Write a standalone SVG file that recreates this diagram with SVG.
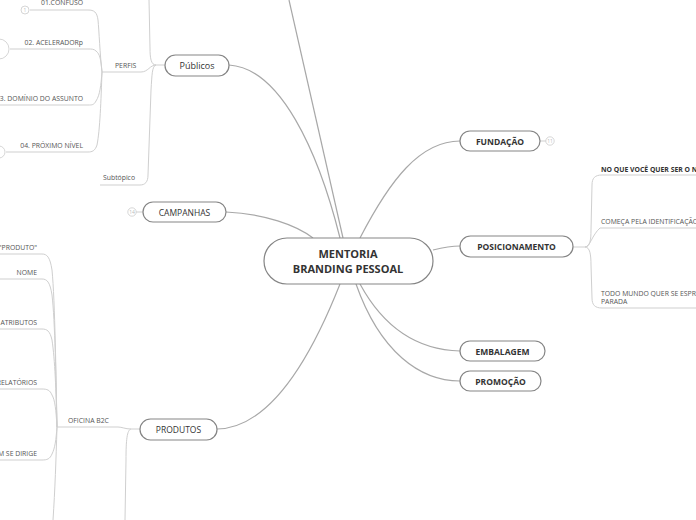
<svg xmlns="http://www.w3.org/2000/svg" width="696" height="520" viewBox="0 0 696 520">
<style>
.c{fill:none;stroke:#a8a8a8;stroke-width:1.2}
.s{fill:none;stroke:#cfcfcf;stroke-width:1}
.n{fill:#fff;stroke:#858585;stroke-width:1.2}
.t{font-family:"Open Sans","Noto Sans",sans-serif;fill:#333}
.tb{font-family:"Open Sans","Noto Sans",sans-serif;fill:#333;font-weight:bold;font-size:8.5px}
.sm{font-family:"Open Sans","Noto Sans",sans-serif;fill:#555;font-size:6.85px}
.smb{font-family:"Open Sans","Noto Sans",sans-serif;fill:#333;font-size:6.85px;font-weight:bold}
.cnt{fill:#fff;stroke:#ccc;stroke-width:0.8}
.ct{font-family:"Open Sans",sans-serif;fill:#bbb;font-size:5px}
</style>
<g id="connectors">
<path class="c" d="M343,238 L289,0"/>
<path class="c" d="M229,65 C280,68 318,150 340,238"/>
<path class="c" d="M226,212 C265,214 296,225 313,238"/>
<path class="c" d="M360,238 C390,180 420,141 460,141"/>
<path class="c" d="M433,250 C445,247 450,246 460,246"/>
<path class="c" d="M360,284 C385,330 420,350 460,351"/>
<path class="c" d="M356,284 C380,352 420,381 460,381"/>
<path class="c" d="M340,284 C310,360 270,428 217,429"/>
<path class="s" d="M540,141 L546,141"/>
<path class="s" d="M128,212 L143,212"/>
<path class="s" d="M573,247 L585,247 C590,247 591,240 591,230 L592,185 C592,178 595,175 602,175 L696,175"/>
<path class="s" d="M585,247 C590,247 592,235 600,228 L696,228"/>
<path class="s" d="M585,247 C590,247 591,255 591,265 L592,298 C592,305 595,308 602,308 L696,308"/>
<path class="s" d="M165,65 L156,65 C151,65 150,58 150,48 L149,0"/>
<path class="s" d="M156,65 C152,66 152,75 151,90 L148,175 C148,182 145,185 140,185 L100,185"/>
<path class="s" d="M156,65 C150,65 148,72 141,72 L102,72"/>
<path class="s" d="M102,72 C100,55 99,30 98,20 C97,12 94,10 88,10 L30,10"/>
<path class="s" d="M102,72 C101,60 100,54 96,51 C94,49 92,49 88,49 L10,49"/>
<path class="s" d="M102,72 C101,85 100,95 96,101 C94,105 92,105 88,105 L0,105"/>
<path class="s" d="M102,72 C101,100 100,130 97,145 C95,151 92,152 88,152 L6,152"/>
<path class="s" d="M140,429 L131,429 C127,430 126,440 126,460 L125,520"/>
<path class="s" d="M131,429 C125,429 122,427 118,427 L57,427"/>
<path class="s" d="M57,427 C56,380 55,300 52,270 C50,257 47,254 42,254 L0,254"/>
<path class="s" d="M57,427 C56,380 55,320 52,295 C50,282 47,279 42,279 L0,279"/>
<path class="s" d="M57,427 C56,390 55,360 52,340 C50,331 47,329 42,329 L0,329"/>
<path class="s" d="M57,427 C56,410 55,400 52,395 C50,390 47,389 42,389 L0,389"/>
<path class="s" d="M57,427 C56,440 55,448 52,454 C50,459 47,460 42,460 L0,460"/>
<path class="s" d="M57,427 C56,460 55,490 53,520"/>
</g>
<g id="counters">
<circle class="cnt" cx="25" cy="10" r="4"/><text class="ct" x="25" y="11.8" text-anchor="middle">1</text>
<circle class="cnt" cx="-1" cy="49" r="10"/>
<circle class="cnt" cx="-1" cy="152" r="6"/>
</g>
<g id="center">
<rect class="n" x="264" y="238" width="169" height="46" rx="23"/>
<text class="t" x="348" y="258" text-anchor="middle" font-size="11" font-weight="bold">MENTORIA</text>
<text class="t" x="348" y="273" text-anchor="middle" font-size="11" font-weight="bold">BRANDING PESSOAL</text>
</g>
<g id="fundacao">
<rect class="n" x="460" y="131" width="80" height="20" rx="10"/>
<text class="tb" x="500" y="144.5" text-anchor="middle">FUNDAÇÃO</text>
<circle class="cnt" cx="550" cy="141" r="4.2"/><text class="ct" x="550" y="142.8" text-anchor="middle">11</text>
</g>
<g id="posicionamento">
<rect class="n" x="460" y="236" width="113" height="21" rx="10.5"/>
<text class="tb" x="516.5" y="249.5" text-anchor="middle">POSICIONAMENTO</text>
</g>
<g id="pos1"><text class="smb" x="601" y="172">NO QUE VOCÊ QUER SER O NÚMERO 1</text></g>
<g id="pos2"><text class="sm" x="601" y="223.5">COMEÇA PELA IDENTIFICAÇÃO</text></g>
<g id="pos3"><text class="sm" x="601" y="296">TODO MUNDO QUER SE ESPREMER</text><text class="sm" x="601" y="304">PARADA</text></g>
<g id="embalagem">
<rect class="n" x="460" y="341" width="85" height="20" rx="10"/>
<text class="tb" x="502.5" y="354.5" text-anchor="middle">EMBALAGEM</text>
</g>
<g id="promocao">
<rect class="n" x="460" y="371" width="81" height="20" rx="10"/>
<text class="tb" x="500.5" y="384.5" text-anchor="middle">PROMOÇÃO</text>
</g>
<g id="publicos">
<rect class="n" x="165" y="55" width="64" height="21" rx="10.5"/>
<text class="t" x="197" y="68.5" text-anchor="middle" font-size="9">Públicos</text>
</g>
<g id="perfis"><text class="sm" x="115" y="68">PERFIS</text></g>
<g id="subtopico"><text class="sm" x="103" y="180">Subtópico</text></g>
<g id="confuso"><text class="sm" x="83" y="5" text-anchor="end">01.CONFUSO</text></g>
<g id="acelerador"><text class="sm" x="83" y="45" text-anchor="end">02. ACELERADORp</text></g>
<g id="dominio"><text class="sm" x="83" y="101" text-anchor="end">03. DOMÍNIO DO ASSUNTO</text></g>
<g id="proximo"><text class="sm" x="83" y="148" text-anchor="end">04. PRÓXIMO NÍVEL</text></g>
<g id="campanhas">
<rect class="n" x="143" y="202" width="83" height="20" rx="10"/>
<text class="t" x="184.5" y="215.5" text-anchor="middle" font-size="8.5">CAMPANHAS</text>
<circle class="cnt" cx="132" cy="212" r="4.2"/><text class="ct" x="132" y="213.8" text-anchor="middle">14</text>
</g>
<g id="produtos">
<rect class="n" x="140" y="419" width="77" height="21" rx="10.5"/>
<text class="t" x="178.5" y="432.5" text-anchor="middle" font-size="8.5">PRODUTOS</text>
</g>
<g id="oficina"><text class="sm" x="68" y="423">OFICINA B2C</text></g>
<g id="produto"><text class="sm" x="37" y="250" text-anchor="end">O "PRODUTO"</text></g>
<g id="nome"><text class="sm" x="37" y="275" text-anchor="end">NOME</text></g>
<g id="atributos"><text class="sm" x="37" y="325" text-anchor="end">ATRIBUTOS</text></g>
<g id="relatorios"><text class="sm" x="37" y="385" text-anchor="end">RELATÓRIOS</text></g>
<g id="dirige"><text class="sm" x="37" y="456" text-anchor="end">A QUEM SE DIRIGE</text></g>
</svg>
